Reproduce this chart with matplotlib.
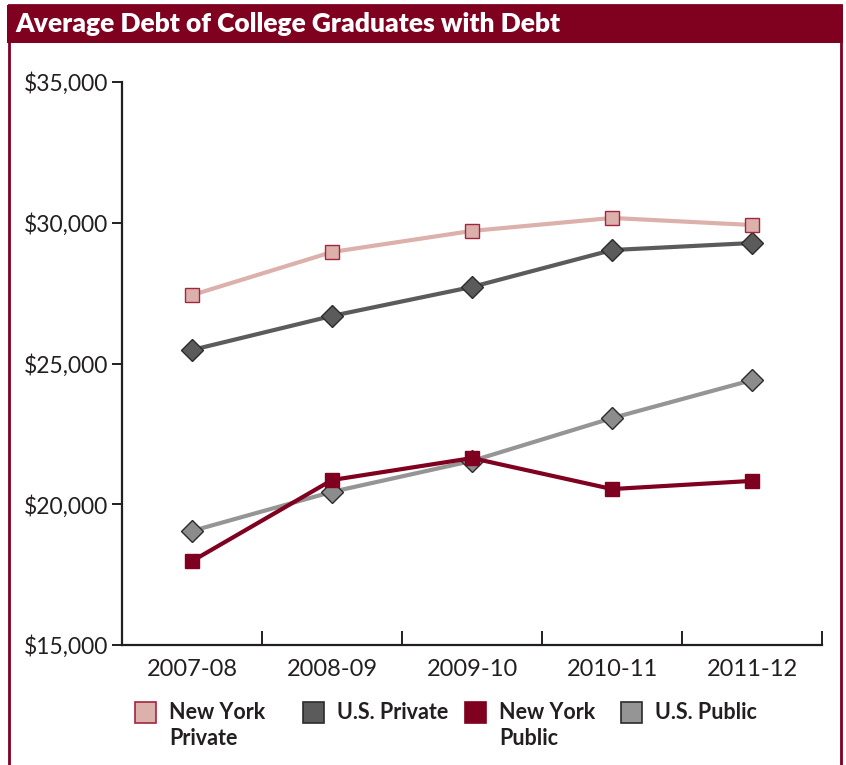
import numpy as np
import matplotlib
matplotlib.use("Agg")
import matplotlib.pyplot as plt
from matplotlib.patches import Rectangle

plt.rcParams['font.family'] = ['Lato', 'DejaVu Sans']

years = ["2007-08", "2008-09", "2009-10", "2010-11", "2011-12"]
ny_private = [27430, 28960, 29710, 30170, 29920]
us_private = [25480, 26690, 27720, 29030, 29280]
ny_public = [17980, 20860, 21640, 20540, 20830]
us_public = [19050, 20440, 21540, 23060, 24410]
y_ticks = [15000, 20000, 25000, 30000, 35000]

DARK_RED = "#800020"
PINK = "#dcb0ab"
PINK_EDGE = "#a3253f"
DARK_GREY = "#5b5b5b"
LIGHT_GREY = "#959595"
EDGE = "#2b2b2b"
TXT = "#231f20"

W, H = 846, 765
fig = plt.figure(figsize=(W / 100, H / 100), dpi=100)
ax = fig.add_axes([122 / W, 1 - 645 / H, 700 / W, 563 / H])

x = np.arange(len(years))

# greys drawn first so the red lines sit on top where they cross
ax.plot(x, us_public, color=LIGHT_GREY, lw=3, marker='D', ms=11,
        mfc="#8c8c8c", mec=EDGE, mew=1, zorder=3)
ax.plot(x, us_private, color=DARK_GREY, lw=3, marker='D', ms=11,
        mfc=DARK_GREY, mec=EDGE, mew=1, zorder=3)
ax.plot(x, ny_private, color=PINK, lw=3, marker='s', ms=10,
        mfc=PINK, mec=PINK_EDGE, mew=1, zorder=4)
ax.plot(x, ny_public, color=DARK_RED, lw=3, marker='s', ms=10,
        mfc=DARK_RED, mec=DARK_RED, mew=1, zorder=4)

ax.set_xlim(-0.5, len(years) - 0.5)
ax.set_ylim(y_ticks[0], y_ticks[-1])
ax.set_xticks(x)
ax.set_xticklabels(years, fontsize=17, color=TXT)
ax.set_xticks(x + 0.5, minor=True)
ax.tick_params(axis='x', which='major', length=0, pad=10)
ax.tick_params(axis='x', which='minor', direction='in', length=10, width=1.4, color=TXT)
ax.set_yticks(y_ticks)
ax.set_yticklabels(["${:,}".format(v) for v in y_ticks], fontsize=16.5, color=TXT)
ax.tick_params(axis='y', direction='out', length=7, width=1.4, color=TXT, pad=3)

for s in ['top', 'right']:
    ax.spines[s].set_visible(False)
for s in ['left', 'bottom']:
    ax.spines[s].set_linewidth(1.6)
    ax.spines[s].set_color(TXT)

# legend, built by hand so the swatch lines up with the first text line
leg_labels = ["New York\nPrivate", "U.S. Private", "New York\nPublic", "U.S. Public"]
leg_face = [PINK, DARK_GREY, DARK_RED, LIGHT_GREY]
leg_edge = [PINK_EDGE, EDGE, DARK_RED, EDGE]
leg_x = [135, 303, 465, 621]
for lx, lab, fc, ec in zip(leg_x, leg_labels, leg_face, leg_edge):
    fig.patches.append(Rectangle((lx / W, 1 - 723 / H), 21 / W, 21 / H,
                                 transform=fig.transFigure, facecolor=fc,
                                 edgecolor=ec, lw=1.2))
    fig.text((lx + 34) / W, 1 - 702 / H, lab, fontsize=15.5, fontweight='bold',
             color=TXT, ha='left', va='top', linespacing=1.3)

# title bar and frame
fig.patches.append(Rectangle((7 / W, 1 - 43 / H), 836 / W, 38 / H,
                             transform=fig.transFigure, facecolor=DARK_RED,
                             edgecolor='none', zorder=0))
fig.patches.append(Rectangle((8.5 / W, -0.01), 832 / W, 1 - 5 / H + 0.01,
                             transform=fig.transFigure, facecolor='none',
                             edgecolor=DARK_RED, lw=2, zorder=0))
fig.text(15 / W, 1 - 24 / H, "Average Debt of College Graduates with Debt",
         color='white', fontsize=19, fontweight='heavy', va='center', ha='left')

fig.savefig("out.png", dpi=100)
